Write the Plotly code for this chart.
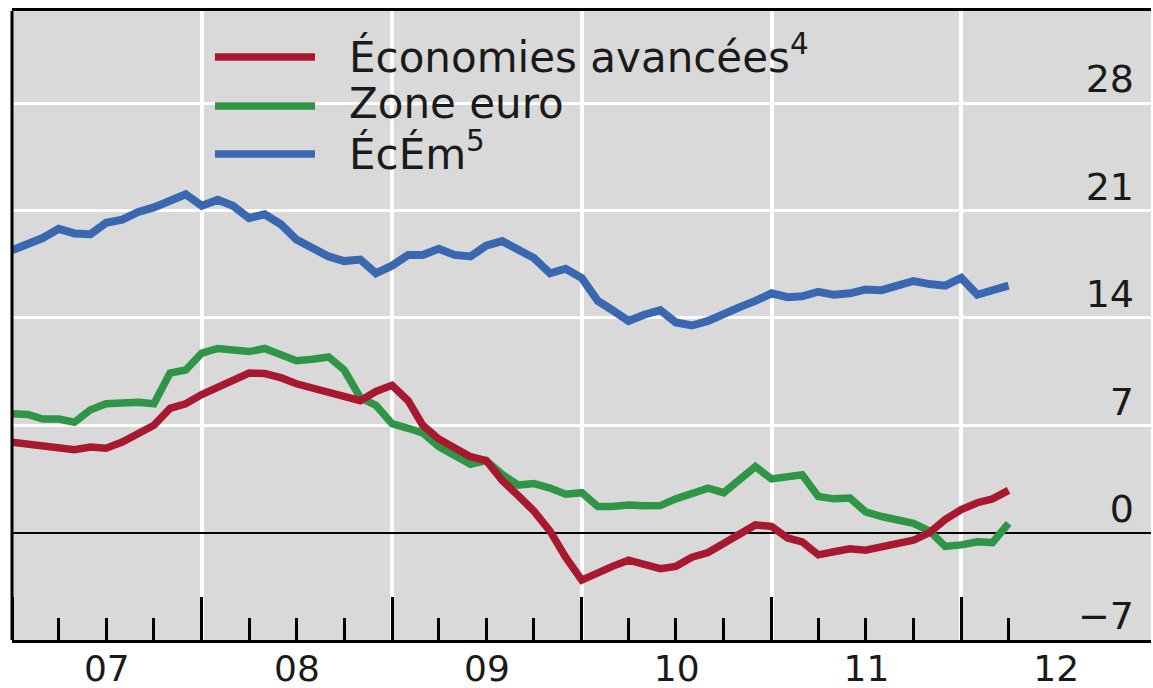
import pandas as pd
import plotly.graph_objects as go

# Monthly observations, Jan 2007 - Apr 2012
months = pd.date_range("2007-01-01", periods=64, freq="MS")

economies_avancees = [
    5.9, 5.8, 5.65, 5.5, 5.4, 5.58, 5.5, 5.9, 6.4, 7.0, 8.1, 8.4,
    9.0, 9.5, 9.95, 10.4, 10.37, 10.1, 9.7, 9.4, 9.2, 8.85, 8.6, 9.2,
    9.6, 8.6, 7.0, 6.1, 5.6, 4.95, 4.7, 3.4, 2.4, 1.4, 0.1, -1.6,
    -3.1, -2.6, -2.2, -1.8, -2.1, -2.35, -2.2, -1.6, -1.3, -0.7, 0.0, 0.5,
    0.4, -0.35, -0.6, -1.45, -1.25, -1.05, -1.15, -0.95, -0.8, -0.5, 0.0, 0.85,
    1.5, 1.95, 2.2, 2.75,
]

zone_euro = [
    7.75, 7.7, 7.4, 7.4, 7.2, 8.0, 8.4, 8.5, 8.5, 8.4, 10.4, 10.6,
    11.7, 12.0, 11.9, 11.8, 12.0, 11.65, 11.2, 11.3, 11.45, 10.6, 8.8, 8.3,
    7.1, 6.8, 6.5, 5.6, 5.0, 4.45, 4.7, 3.8, 3.1, 3.2, 2.9, 2.5,
    2.6, 1.7, 1.7, 1.8, 1.75, 1.76, 2.2, 2.5, 2.9, 2.6, 3.5, 4.3,
    3.5, 3.66, 3.77, 2.35, 2.2, 2.25, 1.35, 1.05, 0.8, 0.6, 0.1, -0.9,
    -0.8, -0.6, -0.65, 0.6,
]

ecem = [
    18.4, 18.8, 19.2, 19.8, 19.5, 19.45, 20.2, 20.4, 20.9, 21.2, 21.7, 22.05,
    21.3, 21.7, 21.3, 20.5, 20.75, 20.1, 19.1, 18.5, 18.0, 17.7, 17.8, 16.9,
    17.4, 18.1, 18.1, 18.5, 18.1, 18.0, 18.7, 19.0, 18.5, 17.9, 16.9, 17.2,
    16.6, 15.1, 14.5, 13.8, 14.2, 14.5, 13.7, 13.5, 13.8, 14.3, 14.7, 15.1,
    15.6, 15.35, 15.4, 15.7, 15.5, 15.6, 15.85, 15.8, 16.1, 16.4, 16.2, 16.1,
    16.6, 15.5, 15.8, 16.1,
]

series_names = ["Économies avancées<sup>4</sup>", "Zone euro", "ÉcÉm<sup>5</sup>"]
series_colors = ["#a8182f", "#2e9646", "#3a68b0"]

y_ticks = [-7, 0, 7, 14, 21, 28]
minor_ticks = [
    "2007-04-01", "2007-07-01", "2007-10-01",
    "2008-04-01", "2008-07-01", "2008-10-01",
    "2009-04-01", "2009-07-01", "2009-10-01",
    "2010-04-01", "2010-07-01", "2010-10-01",
    "2011-04-01", "2011-07-01", "2011-10-01",
    "2012-04-01",
]

FONT = "DejaVu Sans"
TXT = "#1a1a1a"

fig = go.Figure()
fig.add_trace(go.Scatter(x=months, y=ecem, mode="lines", name=series_names[2],
                         line=dict(color=series_colors[2], width=8)))
fig.add_trace(go.Scatter(x=months, y=zone_euro, mode="lines", name=series_names[1],
                         line=dict(color=series_colors[1], width=7.5)))
fig.add_trace(go.Scatter(x=months, y=economies_avancees, mode="lines", name=series_names[0],
                         line=dict(color=series_colors[0], width=7.5)))

# manual legend (long line samples)
leg_y = [0.9269, 0.849, 0.7727]
shapes = [dict(type="line", xref="paper", yref="paper", x0=0, x1=0, y0=0, y1=1,
               line=dict(color="black", width=3))]
annotations = []
for name, col, yy in zip(series_names, series_colors, leg_y):
    shapes.append(dict(type="line", xref="paper", yref="paper",
                       x0=0.1782, x1=0.266, y0=yy, y1=yy,
                       line=dict(color=col, width=7.5)))
    annotations.append(dict(xref="paper", yref="paper", x=0.2941, y=yy,
                            xanchor="left", yanchor="middle", showarrow=False,
                            text=name, font=dict(family=FONT, size=42, color=TXT),
                            yshift=2))

fig.update_layout(
    width=1153, height=688,
    margin=dict(l=12, r=2, t=11, b=48, autoexpand=False),
    plot_bgcolor="#d9d9d9", paper_bgcolor="white",
    showlegend=False,
    shapes=shapes, annotations=annotations,
    xaxis=dict(
        type="date", automargin=False,
        range=["2007-01-01", "2012-12-31"],
        tickmode="linear", tick0="2007-01-01", dtick="M12",
        tickformat="%y", ticklabelmode="period",
        ticks="inside", ticklen=43, tickwidth=3, tickcolor="black",
        showgrid=True, gridcolor="white", gridwidth=3.5,
        showline=True, linecolor="black", linewidth=3, mirror=True,
        tickfont=dict(family=FONT, size=36, color=TXT),
        ticklabelstandoff=-5,
        minor=dict(tickmode="array", tickvals=minor_ticks, ticks="inside",
                   ticklen=22, tickwidth=3, tickcolor="black", showgrid=False),
        zeroline=False,
    ),
    yaxis=dict(
        range=[-7, 34], side="right", automargin=False,
        tickmode="array", tickvals=y_ticks,
        ticks="", ticklabelposition="inside",
        ticklabelshift=-24, ticklabelstandoff=14,
        showgrid=True, gridcolor="white", gridwidth=3,
        zeroline=True, zerolinecolor="black", zerolinewidth=2,
        showline=False,
        tickfont=dict(family=FONT, size=38, color=TXT),
    ),
)

fig.write_html(
    "out.html",
    config={"displayModeBar": False},
    post_script="document.body.style.margin='0';document.body.style.overflow='hidden';",
)
